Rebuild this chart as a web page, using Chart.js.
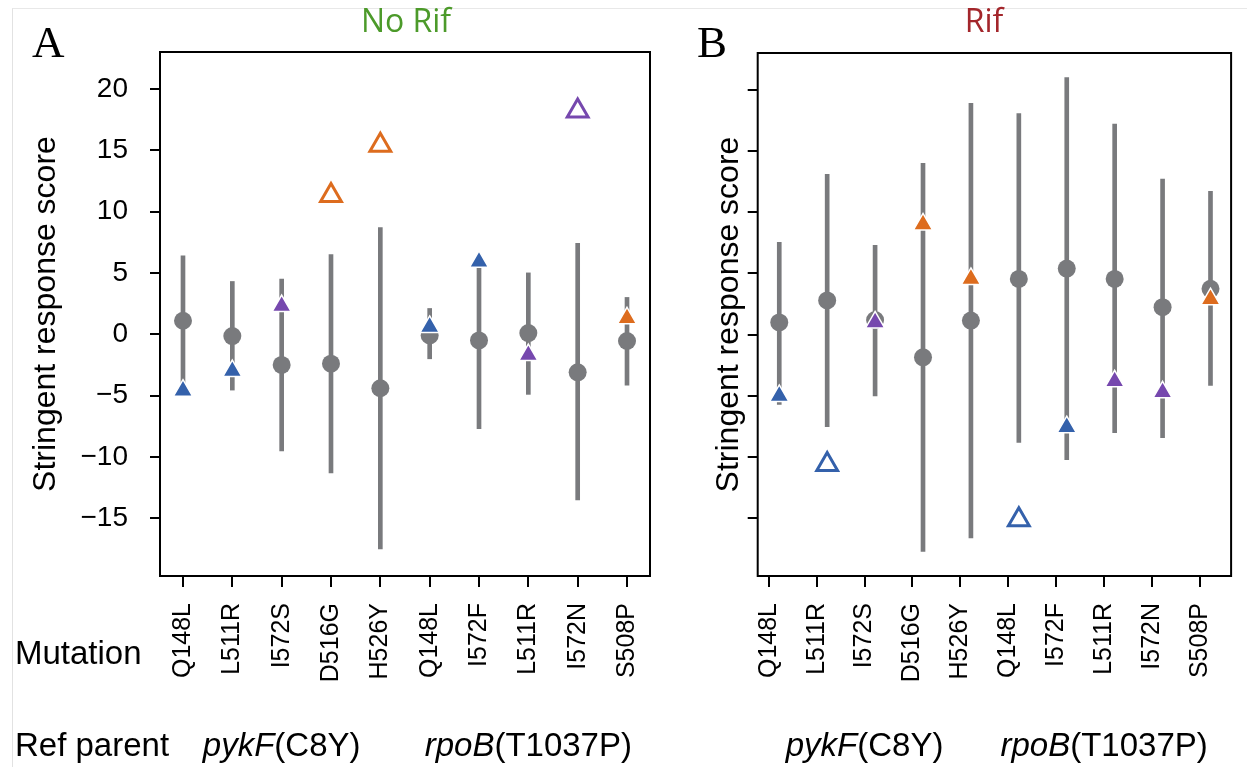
<!DOCTYPE html>
<html lang="en">
<head>
    <meta charset="UTF-8">
    <title>Stringent response score</title>
    <script src="https://cdn.jsdelivr.net/npm/chart.js"></script>
    <style>
        body {
            margin: 0;
            background-color: #ffffff;
        }
        #fig {
            position: relative;
            width: 1247px;
            height: 767px;
            overflow: hidden;
            background: #ffffff;
            font-family: 'Liberation Sans', Arial, sans-serif;
            color: #000000;
        }
        #fig canvas {
            position: absolute;
            top: 0;
        }
        .frame {
            position: absolute;
            left: 12px;
            top: 8px;
            right: 0;
            bottom: 0;
            border-left: 1px solid #e2e2e2;
            border-top: 1px solid #e8e8e8;
        }
        .letter {
            position: absolute;
            top: 20px;
            font-family: 'Liberation Serif', 'Times New Roman', serif;
            font-size: 45px;
            line-height: 1;
        }
        .cond {
            position: absolute;
            top: 4px;
            transform: translateX(-50%);
            font-family: 'Open Sans', sans-serif;
            font-size: 32px;
            line-height: 1;
            white-space: nowrap;
        }
        .rowlabel {
            position: absolute;
            left: 15px;
            font-size: 33px;
            line-height: 1;
            white-space: nowrap;
        }
        .parent {
            position: absolute;
            top: 728px;
            transform: translateX(-50%);
            font-size: 33px;
            line-height: 1;
            white-space: nowrap;
        }
    </style>
</head>
<body>
    <div id="fig">
        <div class="frame"></div>
        <canvas id="chartA" width="680" height="767" style="left:0px"></canvas>
        <canvas id="chartB" width="567" height="767" style="left:680px"></canvas>
        <div class="letter" style="left:32px">A</div>
        <div class="letter" style="left:697px">B</div>
        <div class="cond" style="left:406px; color:#4c9a2a">No Rif</div>
        <div class="cond" style="left:984px; color:#a3262b">Rif</div>
        <div class="rowlabel" style="top:636px">Mutation</div>
        <div class="rowlabel" style="top:728px">Ref parent</div>
    </div>

    <script>
        const mutations = ['Q148L', 'L511R', 'I572S', 'D516G', 'H526Y', 'Q148L', 'I572F', 'L511R', 'I572N', 'S508P'];
        const yTicks = [-15, -10, -5, 0, 5, 10, 15, 20];

        // which triangle colour each mutation gets (0 blue, 1 purple, 2 orange)
        const triangleGroup = [0, 0, 1, 2, 2, 0, 0, 1, 1, 2];

        const parentNames = ['pykF', 'rpoB'];
        const parentAlleles = ['(C8Y)', '(T1037P)'];
        const parentSpans = [[0, 4], [5, 9]];

        // panel A, no rifampicin
        const meanA = [1.1, -0.15, -2.5, -2.4, -4.4, -0.1, -0.5, 0.1, -3.1, -0.55];
        const lowA = [-4.2, -4.55, -9.5, -11.3, -17.5, -2.0, -7.7, -4.9, -13.5, -4.15];
        const highA = [6.4, 4.3, 4.5, 6.5, 8.7, 2.1, 5.8, 5.0, 7.4, 3.0];
        const triA = [-4.6, -3.0, 2.3, 11.3, 15.4, 0.6, 5.9, -1.7, 18.2, 1.3];
        const openA = [0, 0, 0, 1, 1, 0, 0, 0, 1, 0];

        // panel B, rifampicin
        const meanB = [1.0, 2.8, 1.2, -1.85, 1.15, 4.55, 5.4, 4.55, 2.25, 3.75];
        const lowB = [-5.7, -7.5, -5.0, -17.7, -16.6, -8.8, -10.2, -8.0, -8.4, -4.15];
        const highB = [7.55, 13.1, 7.3, 14.0, 18.9, 18.05, 21.0, 17.2, 12.7, 11.7];
        const triB = [-5.0, -10.6, 1.0, 9.0, 4.55, -15.1, -7.55, -3.8, -4.7, 2.9];
        const openB = [0, 1, 0, 0, 0, 1, 0, 0, 0, 0];

        const palette = ['#3461ab', '#7648ae', '#dd6c1e'];
        const gray = '#797a7d';
        const fontFamily = "'Liberation Sans', Arial, sans-serif";

        const frameBox = {
            id: 'frameBox',
            afterDraw(chart) {
                const { ctx, chartArea: a } = chart;
                ctx.save();
                ctx.strokeStyle = '#000000';
                ctx.lineWidth = 2;
                ctx.strokeRect(a.left, a.top, a.right - a.left, a.bottom - a.top);
                ctx.restore();
            }
        };

        function fmt(v) {
            return v < 0 ? '\u2212' + Math.abs(v) : String(v);
        }

        function makePanel(canvasId, p) {
            const triColors = triangleGroup.map(g => palette[g]);
            return new Chart(document.getElementById(canvasId), {
                type: 'bar',
                data: {
                    datasets: [
                        {
                            type: 'scatter',
                            data: p.tri.map((v, i) => ({ x: i, y: p.open[i] ? null : v })),
                            pointStyle: 'triangle',
                            pointRadius: 11,
                            pointHoverRadius: 11,
                            pointBackgroundColor: triColors,
                            pointBorderColor: '#ffffff',
                            pointBorderWidth: 1.5,
                            order: 0
                        },
                        {
                            type: 'scatter',
                            data: p.tri.map((v, i) => ({ x: i, y: p.open[i] ? v : null })),
                            pointStyle: 'triangle',
                            pointRadius: 12,
                            pointHoverRadius: 12,
                            pointBackgroundColor: '#ffffff',
                            pointBorderColor: triColors,
                            pointBorderWidth: 3,
                            order: 0
                        },
                        {
                            type: 'scatter',
                            data: p.mean.map((v, i) => ({ x: i, y: v })),
                            pointRadius: 9,
                            pointHoverRadius: 9,
                            pointBackgroundColor: gray,
                            pointBorderWidth: 0,
                            order: 1
                        },
                        {
                            type: 'bar',
                            data: p.low.map((v, i) => ({ x: i, y: [v, p.high[i]] })),
                            backgroundColor: gray,
                            borderWidth: 0,
                            barThickness: 4,
                            grouped: false,
                            order: 2
                        }
                    ]
                },
                options: {
                    responsive: false,
                    animation: false,
                    devicePixelRatio: 1,
                    events: [],
                    layout: { padding: { left: p.padLeft, right: p.padRight, top: p.padTop, bottom: 0 } },
                    plugins: { legend: { display: false }, tooltip: { enabled: false } },
                    scales: {
                        x: { type: 'linear', display: false, offset: false, min: p.xMin, max: p.xMax },
                        xt: {
                            type: 'linear',
                            position: 'bottom',
                            offset: false,
                            min: p.xMin + p.shift,
                            max: p.xMax + p.shift,
                            afterBuildTicks: s => { s.ticks = mutations.map((_, i) => ({ value: i })); },
                            afterFit: s => { s.height = 191; },
                            ticks: {
                                autoSkip: false,
                                minRotation: 90,
                                maxRotation: 90,
                                padding: 16,
                                color: '#000000',
                                font: { family: fontFamily, size: 25 },
                                callback: v => mutations[Math.round(v)]
                            },
                            grid: { offset: false, drawOnChartArea: false, tickLength: 11, tickWidth: 2, lineWidth: 2, tickColor: '#000000' },
                            border: { display: false }
                        },
                        y: {
                            type: 'linear',
                            position: 'left',
                            min: -19.7,
                            max: 23,
                            afterBuildTicks: s => { s.ticks = yTicks.map(v => ({ value: v })); },
                            afterFit: s => { s.width = p.yWidth; },
                            ticks: {
                                display: p.yLabels,
                                padding: 22,
                                color: '#000000',
                                font: { family: fontFamily, size: 28 },
                                callback: v => fmt(v)
                            },
                            grid: { drawOnChartArea: false, tickLength: 10, tickWidth: 2, lineWidth: 2, tickColor: '#000000' },
                            border: { display: false },
                            title: {
                                display: true,
                                text: 'Stringent response score',
                                color: '#000000',
                                padding: 0,
                                font: { family: fontFamily, size: 32 }
                            }
                        }
                    }
                },
                plugins: [frameBox]
            });
        }

        const chartA = makePanel('chartA', {
            mean: meanA, low: lowA, high: highA, tri: triA, open: openA,
            xMin: -0.466, xMax: 9.466, shift: 0,
            padLeft: 26.8, yWidth: 133.2, padRight: 30, padTop: 52, yLabels: true
        });

        const chartB = makePanel('chartB', {
            mean: meanB, low: lowB, high: highB, tri: triB, open: openB,
            xMin: -0.45, xMax: 9.43, shift: 0.22,
            padLeft: 29.5, yWidth: 48.2, padRight: 1, padTop: 53, yLabels: false
        });

        const fig = document.getElementById('fig');
        function addParentLabels(chart, offsetLeft) {
            const s = chart.scales.xt;
            parentSpans.forEach((span, k) => {
                const el = document.createElement('div');
                el.className = 'parent';
                el.innerHTML = '<i>' + parentNames[k] + '</i>' + parentAlleles[k];
                el.style.left = (offsetLeft + s.getPixelForValue((span[0] + span[1]) / 2)) + 'px';
                fig.appendChild(el);
            });
        }
        addParentLabels(chartA, 0);
        addParentLabels(chartB, 680);
    </script>
</body>
</html>
